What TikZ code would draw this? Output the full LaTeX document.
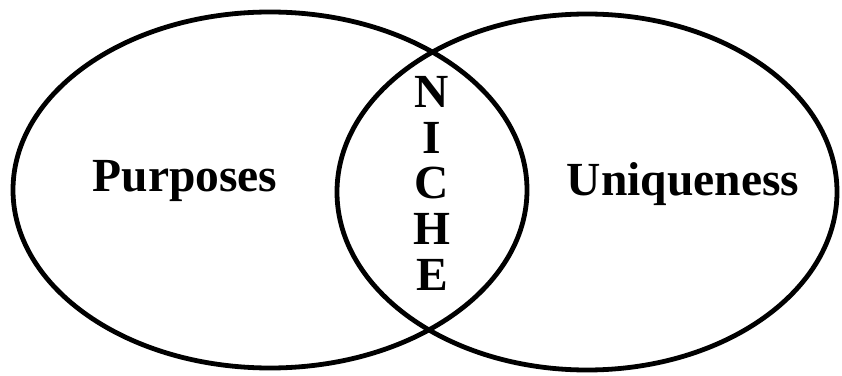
\documentclass[tikz,border=0pt]{standalone}
\usepackage{fontspec}
\setmainfont{Liberation Serif}
\usepackage{tikz}

\begin{document}
\begin{tikzpicture}[x=1pt,y=1pt]
  \tikzstyle{word}=[font=\fontsize{47.5}{47.5}\selectfont\bfseries,anchor=base,inner sep=0pt]
  \tikzstyle{set}=[line width=4.8pt]
  \useasboundingbox (0,0) rectangle (842,375);
  \draw[set] (270,185) ellipse [x radius=257,y radius=178];
  \draw[set] (587,183) ellipse [x radius=250,y radius=178];
  \node[word] (purposes) at (185,183) {Purposes};
  \node[word] (uniqueness) at (683,179) {Uniqueness};
  \foreach \ch [count=\i] in {N,I,C,H,E}
     \node[word] (niche\i) at (432,{267-45.5*(\i-1)}) {\ch};
\end{tikzpicture}
\end{document}
